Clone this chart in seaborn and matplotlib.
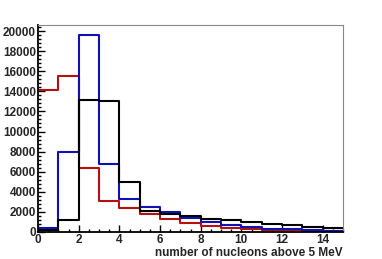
import matplotlib
matplotlib.use("Agg")
import matplotlib.pyplot as plt
from matplotlib.ticker import MultipleLocator
import seaborn as sns
import pandas as pd
import numpy as np

# bin edges 0..15, one value per unit-wide bin
bin_edges = list(range(16))
black_counts = [150, 1200, 13130, 13030, 5000, 2120, 1780, 1590, 1330, 1190, 1000, 830, 670, 530, 430]
blue_counts = [380, 7950, 19570, 6800, 3310, 2520, 1950, 1420, 1030, 660, 470, 330, 270, 200, 120]
red_counts = [14130, 15520, 6400, 3110, 2360, 1760, 1290, 860, 600, 370, 300, 230, 170, 130, 90]

centers = [e + 0.5 for e in bin_edges[:-1]]
df = pd.concat([
    pd.DataFrame({"n": centers, "count": black_counts, "sample": "black"}),
    pd.DataFrame({"n": centers, "count": blue_counts, "sample": "blue"}),
    pd.DataFrame({"n": centers, "count": red_counts, "sample": "red"}),
])

sns.set_style("ticks")
plt.rcParams['font.family'] = ['Liberation Sans', 'DejaVu Sans']

fig = plt.figure(figsize=(3.82, 2.59), dpi=100)
ax = fig.add_axes([38 / 382, 27 / 259, 305 / 382, 207 / 259])

sns.histplot(data=df, x="n", weights="count", hue="sample", bins=bin_edges,
             element="step", fill=False, linewidth=1.5,
             palette={"black": "black", "blue": "#1010b4", "red": "#b41010"},
             legend=False, ax=ax)

ax.set_xlim(0, 15)
ax.set_ylim(0, 20600)
ax.set_ylabel("")
ax.set_xlabel("number of nucleons above 5 MeV", fontsize=8.5, fontweight="bold",
              loc="right", labelpad=1)

ax.xaxis.set_major_locator(MultipleLocator(2))
ax.xaxis.set_minor_locator(MultipleLocator(0.5))
ax.yaxis.set_major_locator(MultipleLocator(2000))
ax.yaxis.set_minor_locator(MultipleLocator(400))
ax.tick_params(which="both", direction="in", top=False, right=False,
               width=1.0, color="black", labelsize=8.5, pad=1.5)
ax.tick_params(which="major", length=5)
ax.tick_params(which="minor", length=2.5)
for lab in ax.get_xticklabels() + ax.get_yticklabels():
    lab.set_fontweight("bold")

for side in ["left", "bottom"]:
    ax.spines[side].set_color("black")
    ax.spines[side].set_linewidth(1.3)
for side in ["top", "right"]:
    ax.spines[side].set_visible(True)
    ax.spines[side].set_color("#888888")
    ax.spines[side].set_linewidth(0.8)

fig.savefig("out.png", dpi=100)
